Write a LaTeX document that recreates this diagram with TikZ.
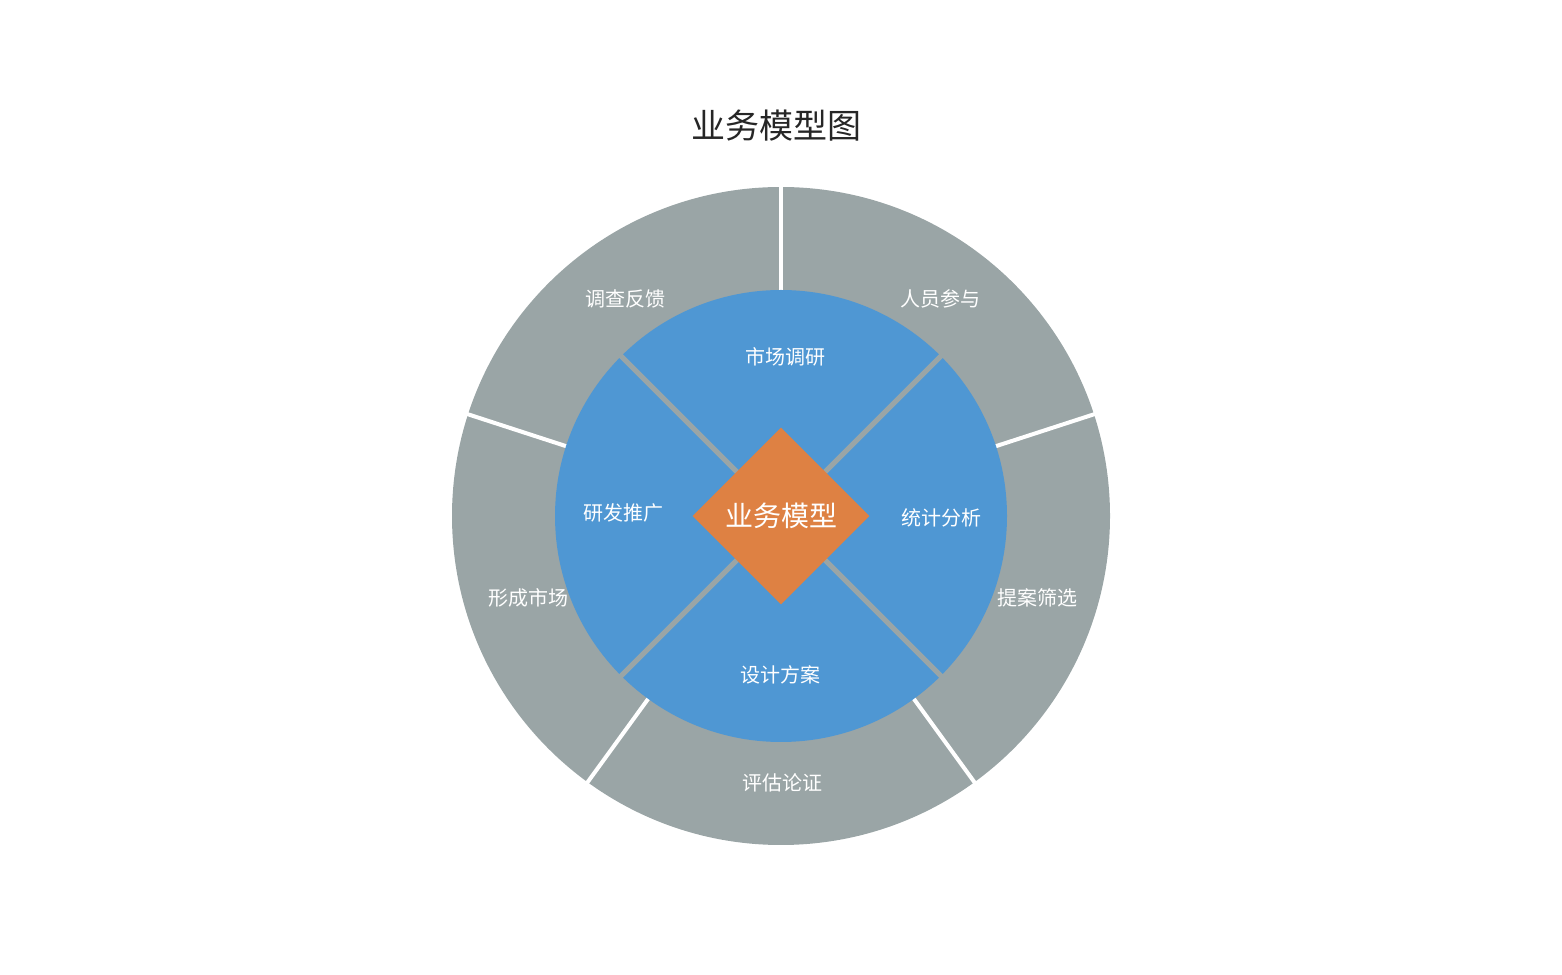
\documentclass[tikz,border=0pt]{standalone}
\usepackage{fontspec}
\setmainfont{Noto Sans CJK SC}
\definecolor{ringgray}{HTML}{9AA5A6}
\definecolor{blueq}{HTML}{4F97D3}
\definecolor{orangec}{HTML}{DE8143}
\begin{document}
\begin{tikzpicture}[x=1pt,y=1pt,
  lbl/.style={text=white,font=\fontsize{20}{22}\selectfont,inner sep=0pt},
  sepw/.style={white,line width=4pt},
  sepg/.style={ringgray,line width=5pt}]
\useasboundingbox (0,0) rectangle (1562,974);
\coordinate (c) at (781,458);
\node[font=\fontsize{34}{36}\selectfont,text=black!85] (title) at (776,848) {业务模型图};
\fill[ringgray] (c) circle (329);
\foreach \a in {90,18,-54,-126,162} \draw[sepw] (c) ++(\a:200) -- ++(\a:132);
\fill[blueq] (c) circle (226);
\foreach \a in {45,135,225,315} \draw[sepg] (c) ++(\a:60) -- ++(\a:167);
\node[fill=orangec,minimum size=125pt,rotate=45,inner sep=0pt] (d) at (c) {};
\node[text=white,font=\fontsize{28}{30}\selectfont] (core) at (c) {业务模型};
\node[lbl] (i1) at (785,617) {市场调研};
\node[lbl] (i2) at (941,456) {统计分析};
\node[lbl] (i3) at (780,299) {设计方案};
\node[lbl] (i4) at (623,461) {研发推广};
\node[lbl] (o1) at (940,675) {人员参与};
\node[lbl] (o2) at (1037,376) {提案筛选};
\node[lbl] (o3) at (782,191) {评估论证};
\node[lbl] (o4) at (528,376) {形成市场};
\node[lbl] (o5) at (625,675) {调查反馈};
\end{tikzpicture}
\end{document}
